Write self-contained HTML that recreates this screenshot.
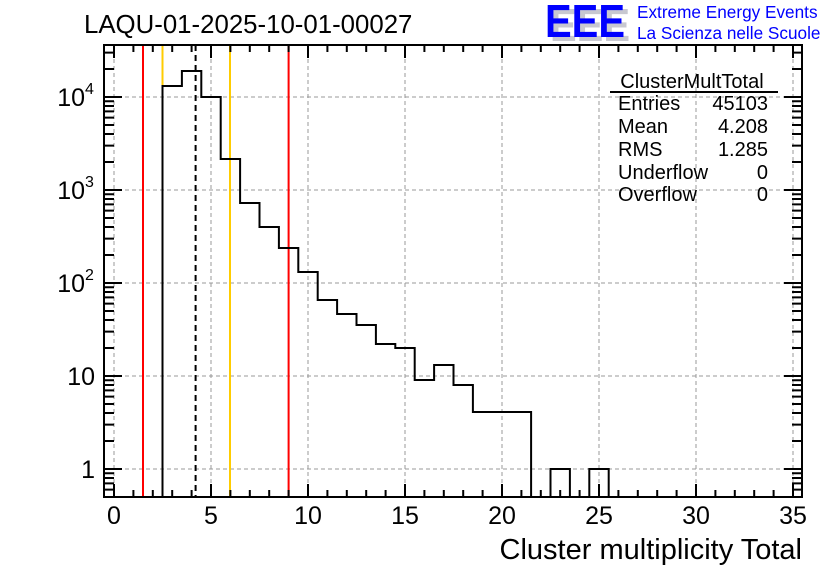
<!DOCTYPE html>
<html><head><meta charset="utf-8"><style>
html,body{margin:0;padding:0;background:#fff;}
svg{display:block;font-family:"Liberation Sans",sans-serif;}
</style></head><body>
<svg width="836" height="572" viewBox="0 0 836 572" xmlns="http://www.w3.org/2000/svg">
<rect width="836" height="572" fill="#fff"/>
<g stroke="#999" stroke-width="1" stroke-dasharray="4,3" fill="none">
<path d="M114,45V497M211,45V497M308,45V497M405,45V497M502,45V497M599,45V497M696,45V497M793,45V497"/>
<path d="M104,469H802M104,376H802M104,283H802M104,190H802M104,97H802"/>
</g>
<g stroke-width="2" fill="none">
<line x1="143" y1="45" x2="143" y2="497" stroke="#ff0000"/>
<line x1="162.5" y1="45" x2="162.5" y2="497" stroke="#ffcc00"/>
<line x1="230" y1="45" x2="230" y2="497" stroke="#ffcc00"/>
<line x1="288.6" y1="45" x2="288.6" y2="497" stroke="#ff0000"/>
<line x1="195.6" y1="45" x2="195.6" y2="497" stroke="#000" stroke-dasharray="6,4"/>
</g>
<path fill="none" stroke="#000" stroke-width="2" d="M162.5,497V86H181.9V71H201.3V97H220.7V159H240.1V203H259.5V227H278.9V248H298.3V272H317.7V300H337.1V314H356.5V325H375.9V344H395.3V348H414.7V380H434.1V365H453.5V385H472.9V412H531.1V497M550.5,497V469H569.9V497M589.3,497V469H608.7V497"/>
<rect x="104" y="45" width="698" height="452" fill="none" stroke="#000" stroke-width="2"/>
<g stroke="#000" stroke-width="2" fill="none">
<path d="M114,497v-13M211,497v-13M308,497v-13M405,497v-13M502,497v-13M599,497v-13M696,497v-13M793,497v-13
M114,45v13M211,45v13M308,45v13M405,45v13M502,45v13M599,45v13M696,45v13M793,45v13"/>
<path d="M133.4,497v-7M152.8,497v-7M172.2,497v-7M191.6,497v-7M230.4,497v-7M249.8,497v-7M269.2,497v-7M288.6,497v-7M327.4,497v-7M346.8,497v-7M366.2,497v-7M385.6,497v-7M424.4,497v-7M443.8,497v-7M463.2,497v-7M482.6,497v-7M521.4,497v-7M540.8,497v-7M560.2,497v-7M579.6,497v-7M618.4,497v-7M637.8,497v-7M657.2,497v-7M676.6,497v-7M715.4,497v-7M734.8,497v-7M754.2,497v-7M773.6,497v-7
M133.4,45v7M152.8,45v7M172.2,45v7M191.6,45v7M230.4,45v7M249.8,45v7M269.2,45v7M288.6,45v7M327.4,45v7M346.8,45v7M366.2,45v7M385.6,45v7M424.4,45v7M443.8,45v7M463.2,45v7M482.6,45v7M521.4,45v7M540.8,45v7M560.2,45v7M579.6,45v7M618.4,45v7M637.8,45v7M657.2,45v7M676.6,45v7M715.4,45v7M734.8,45v7M754.2,45v7M773.6,45v7"/>
<path d="M104,469h18M104,376h18M104,283h18M104,190h18M104,97h18
M802,469h-18M802,376h-18M802,283h-18M802,190h-18M802,97h-18"/>
<path d="M104,489.6h10M104,483.4h10M104,478h10M104,473.3h10
M104,441h10M104,424.6h10M104,413h10M104,404h10M104,396.6h10M104,390.4h10M104,385h10M104,380.3h10
M104,348h10M104,331.6h10M104,320h10M104,311h10M104,303.6h10M104,297.4h10M104,292h10M104,287.3h10
M104,255h10M104,238.6h10M104,227h10M104,218h10M104,210.6h10M104,204.4h10M104,199h10M104,194.3h10
M104,162h10M104,145.6h10M104,134h10M104,125h10M104,117.6h10M104,111.4h10M104,106h10M104,101.3h10
M104,69h10M104,52.6h10
M802,489.6h-10M802,483.4h-10M802,478h-10M802,473.3h-10
M802,441h-10M802,424.6h-10M802,413h-10M802,404h-10M802,396.6h-10M802,390.4h-10M802,385h-10M802,380.3h-10
M802,348h-10M802,331.6h-10M802,320h-10M802,311h-10M802,303.6h-10M802,297.4h-10M802,292h-10M802,287.3h-10
M802,255h-10M802,238.6h-10M802,227h-10M802,218h-10M802,210.6h-10M802,204.4h-10M802,199h-10M802,194.3h-10
M802,162h-10M802,145.6h-10M802,134h-10M802,125h-10M802,117.6h-10M802,111.4h-10M802,106h-10M802,101.3h-10
M802,69h-10M802,52.6h-10"/>
</g>
<g font-size="25" text-anchor="middle" fill="#000">
<text x="114" y="524">0</text><text x="211" y="524">5</text><text x="308" y="524">10</text><text x="405" y="524">15</text>
<text x="502" y="524">20</text><text x="599" y="524">25</text><text x="696" y="524">30</text><text x="793" y="524">35</text>
</g>
<g font-size="25" text-anchor="end" fill="#000">
<text x="95" y="478">1</text>
<text x="95" y="385">10</text>
<text x="85" y="292">10</text><text x="85" y="199">10</text><text x="85" y="106">10</text>
</g>
<g font-size="16" fill="#000">
<text x="85" y="280">2</text><text x="85" y="187">3</text><text x="85" y="94">4</text>
</g>
<text x="84" y="33" font-size="25.8" fill="#000">LAQU-01-2025-10-01-00027</text>
<text x="802" y="559" font-size="29" text-anchor="end" fill="#000">Cluster multiplicity Total</text>
<g font-size="20" fill="#000">
<text x="692" y="88" text-anchor="middle">ClusterMultTotal</text>
<line x1="610" y1="92" x2="778" y2="92" stroke="#000" stroke-width="2"/>
<text x="618" y="110">Entries</text><text x="768" y="110" text-anchor="end">45103</text>
<text x="618" y="133">Mean</text><text x="768" y="133" text-anchor="end">4.208</text>
<text x="618" y="156">RMS</text><text x="768" y="156" text-anchor="end">1.285</text>
<text x="618" y="179">Underflow</text><text x="768" y="179" text-anchor="end">0</text>
<text x="618" y="201">Overflow</text><text x="768" y="201" text-anchor="end">0</text>
</g>
<text x="550" y="41" font-size="46" font-weight="bold" fill="#c8c8d0" textLength="80" lengthAdjust="spacingAndGlyphs">EEE</text>
<text x="545" y="37" font-size="46" font-weight="bold" fill="#0000ff" textLength="80" lengthAdjust="spacingAndGlyphs">EEE</text>
<g font-size="17.2" fill="#0000ff">
<text x="637" y="18">Extreme Energy Events</text>
<text x="637" y="39">La Scienza nelle Scuole</text>
</g>
</svg>
</body></html>
